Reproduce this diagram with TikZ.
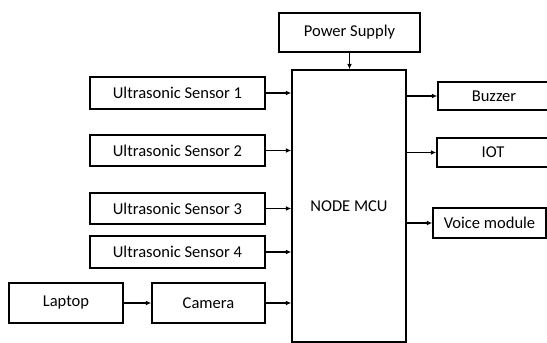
\documentclass[tikz,border=0pt]{standalone}
\usepackage{fontspec}
\setmainfont{Carlito}
\usetikzlibrary{arrows.meta}
\tikzset{
  block/.style={draw, line width=1.1pt, inner sep=0pt, font=\fontsize{12.4}{14}\selectfont},
  arr/.style={line width=1.1pt, -{Latex[length=4pt,width=3.5pt]}}
}
\begin{document}
\begin{tikzpicture}[x=0.75pt, y=-0.75pt]
  \clip (0,0) rectangle (547,343);
  \useasboundingbox (0,0) rectangle (547,343);
  % blocks
  \node[block, minimum width=105.75pt, minimum height=29.25pt] (power) at (349.5,32.5) {Power Supply};
  \node[block, minimum width=85.5pt, minimum height=204pt] (mcu) at (349,206) {NODE MCU};
  \node[block, minimum width=131.25pt, minimum height=24pt] (s1) at (177.5,93) {Ultrasonic Sensor 1};
  \node[block, minimum width=131.25pt, minimum height=23.25pt] (s2) at (177.5,150.5) {Ultrasonic Sensor 2};
  \node[block, minimum width=131.25pt, minimum height=23.25pt] (s3) at (177.5,208.5) {Ultrasonic Sensor 3};
  \node[block, minimum width=131.25pt, minimum height=24pt] (s4) at (177.5,252) {Ultrasonic Sensor 4};
  \node[block, minimum width=85.5pt, minimum height=30pt] (laptop) at (66,303) {Laptop};
  \node[block, minimum width=84.75pt, minimum height=30pt] (camera) at (208.5,303) {Camera};
  \node[block, minimum width=84pt, minimum height=21pt] (buzzer) at (494,96) {Buzzer};
  \node[block, minimum width=84pt, minimum height=21.75pt] (iot) at (493,152.5) {IOT};
  \node[block, minimum width=84.75pt, minimum height=22.5pt] (voice) at (489.5,223) {Voice module};
  % connections
  \draw[arr] (power) -- (power |- mcu.north);
  \draw[arr] (s1.east) -- (s1.east -| mcu.west);
  \draw[arr] (s2.east) -- (s2.east -| mcu.west);
  \draw[arr] (s3.east) -- (s3.east -| mcu.west);
  \draw[arr] (s4.east) -- (s4.east -| mcu.west);
  \draw[arr] (camera.east) -- (camera.east -| mcu.west);
  \draw[arr] (laptop) -- (camera);
  \draw[arr] (buzzer.west -| mcu.east) -- (buzzer.west);
  \draw[arr] (iot.west -| mcu.east) -- (iot.west);
  \draw[arr] (voice.west -| mcu.east) -- (voice.west);
\end{tikzpicture}
\end{document}
